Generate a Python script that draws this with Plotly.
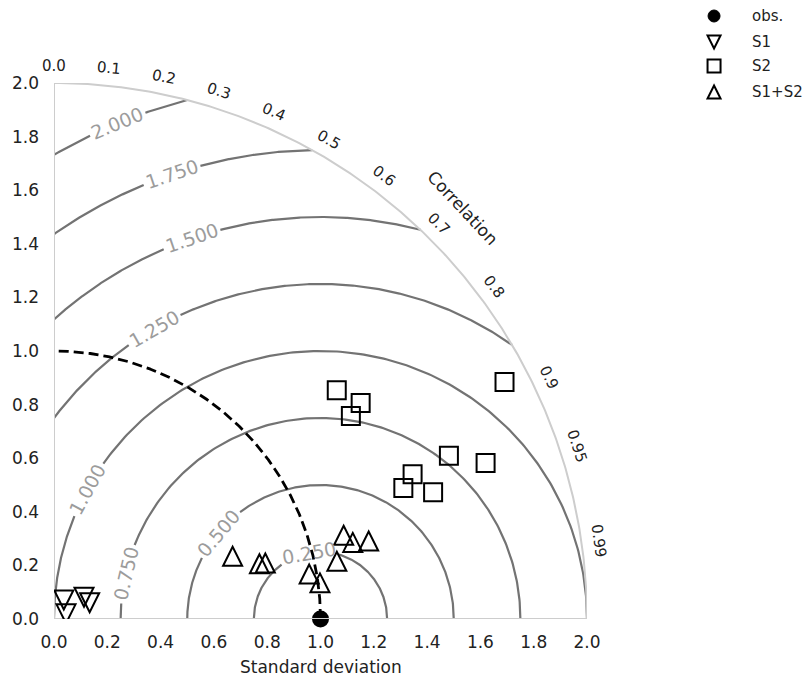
import numpy as np
import plotly.graph_objects as go

# ---- data: standard deviation and correlation of each simulation ----
obs_sd = 1.0
obs_corr = 1.0

s1_sd = [0.080, 0.139, 0.147, 0.049]
s1_corr = [0.46, 0.81, 0.91, 0.92]

s2_sd = [1.362, 1.405, 1.347, 1.908, 1.602, 1.450, 1.399, 1.499, 1.721]
s2_corr = [0.779, 0.819, 0.827, 0.886, 0.925, 0.928, 0.937, 0.949, 0.941]

s12_sd = [0.710, 0.798, 0.820, 0.972, 1.007, 1.083, 1.131, 1.157, 1.216]
s12_corr = [0.944, 0.966, 0.967, 0.985, 0.991, 0.980, 0.961, 0.969, 0.971]

# axis ticks and reference grids
sd_ticks = [0.0, 0.2, 0.4, 0.6, 0.8, 1.0, 1.2, 1.4, 1.6, 1.8, 2.0]
corr_ticks = [0.0, 0.1, 0.2, 0.3, 0.4, 0.5, 0.6, 0.7, 0.8, 0.9, 0.95, 0.99]
rmsd_levels = [0.25, 0.5, 0.75, 1.0, 1.25, 1.5, 1.75, 2.0]
# angle (deg, around the obs point) where each RMSD label sits
rmsd_label_angle = [100, 140, 167, 151, 120, 108.8, 108.6, 112.4]

SD_MAX = 2.0

# ---- layout geometry ----
W, H = 806, 680
ML, MR, MT, MB = 50, 219, 83, 61
PX = (W - ML - MR) / SD_MAX  # pixels per data unit
FONT = "DejaVu Sans"


def polar_xy(sd, corr):
    sd = np.asarray(sd, float)
    th = np.arccos(np.asarray(corr, float))
    return sd * np.cos(th), sd * np.sin(th)


def to_paper(x, y):
    return float(x) / SD_MAX, float(y) / SD_MAX


fig = go.Figure()
shapes = []
annotations = []

LINE_GREY = "#737373"
LABEL_GREY = "#9c9c9c"
FRAME_GREY = "#cdcdcd"


def label(x, y, text, size, color, angle=0, **kw):
    d = dict(x=x, y=y, xref="paper", yref="paper", text=text,
             showarrow=False, textangle=angle, xanchor="center",
             yanchor="middle", font=dict(size=size, color=color, family=FONT))
    d.update(kw)
    return d


# ---- centred RMS difference contours with inline labels ----
lab_font = 19
for R, ang in zip(rmsd_levels, rmsd_label_angle):
    if R <= 1.0:
        lo = 0.0
    else:
        lo = np.arccos((SD_MAX**2 - 1 - R**2) / (2 * R))
    hi = np.pi if R <= 1.0 else np.arccos(-1.0 / R)
    text = f"{R:.3f}"
    half_w = (len(text) - 1) * 0.636 * lab_font / 2 + 0.159 * lab_font + 3
    gap = half_w / (R * PX)
    a = np.deg2rad(ang)
    for seg_lo, seg_hi in [(lo, a - gap), (a + gap, hi)]:
        if seg_hi <= seg_lo:
            continue
        t = np.linspace(seg_lo, seg_hi, 200)
        fig.add_trace(go.Scatter(
            x=1 + R * np.cos(t), y=R * np.sin(t), mode="lines",
            line=dict(color=LINE_GREY, width=2.2), hoverinfo="skip",
            showlegend=False))
    px_, py_ = to_paper(1 + R * np.cos(a), R * np.sin(a))
    annotations.append(label(px_, py_, text, lab_font, LABEL_GREY, 90 - ang))

# ---- outer standard deviation arc and frame ----
t = np.linspace(0, np.pi / 2, 300)
fig.add_trace(go.Scatter(x=SD_MAX * np.cos(t), y=SD_MAX * np.sin(t),
                         mode="lines", line=dict(color=FRAME_GREY, width=2),
                         hoverinfo="skip", showlegend=False))
fig.add_trace(go.Scatter(x=[0, 0], y=[0, SD_MAX], mode="lines",
                         line=dict(color=FRAME_GREY, width=2),
                         hoverinfo="skip", showlegend=False))

# ---- reference standard deviation arc ----
fig.add_trace(go.Scatter(x=obs_sd * np.cos(t), y=obs_sd * np.sin(t),
                         mode="lines",
                         line=dict(color="black", width=2.8, dash="10px,5px"),
                         hoverinfo="skip", showlegend=False))

# ---- observation and simulations ----
ox, oy = polar_xy([obs_sd], [obs_corr])
fig.add_trace(go.Scatter(x=ox, y=oy, mode="markers", name="obs.",
                         marker=dict(symbol="circle", size=17, color="black"),
                         cliponaxis=False, showlegend=False))

x2, y2 = polar_xy(s2_sd, s2_corr)
fig.add_trace(go.Scatter(x=x2, y=y2, mode="markers", name="S2",
                         marker=dict(symbol="square-open", size=18,
                                     color="black",
                                     line=dict(width=2, color="black")),
                         cliponaxis=False, showlegend=False))

# bottom axis line over the markers
fig.add_trace(go.Scatter(x=[0, SD_MAX], y=[0, 0], mode="lines",
                         line=dict(color=FRAME_GREY, width=2),
                         cliponaxis=False, hoverinfo="skip",
                         showlegend=False))

TRI = 9.5
TRI_UP = f"M{-TRI},{-TRI} L{TRI},{-TRI} L0,{TRI} Z"
TRI_DOWN = f"M{-TRI},{TRI} L{TRI},{TRI} L0,{-TRI} Z"


def tri_shape(x, y, path):
    return dict(type="path", xref="x", yref="y", xsizemode="pixel",
                ysizemode="pixel", xanchor=x, yanchor=y, path=path,
                line=dict(color="black", width=2),
                fillcolor="rgba(0,0,0,0)", layer="above")


x1, y1 = polar_xy(s1_sd, s1_corr)
for xx, yy in zip(x1, y1):
    shapes.append(tri_shape(float(xx), float(yy), TRI_DOWN))
x12, y12 = polar_xy(s12_sd, s12_corr)
for xx, yy in zip(x12, y12):
    shapes.append(tri_shape(float(xx), float(yy), TRI_UP))

# ---- correlation labels along the outer arc ----
for c in corr_ticks:
    th = np.arccos(c)
    r = 2.065
    px_, py_ = to_paper(r * np.cos(th), r * np.sin(th))
    annotations.append(label(px_, py_, "0.0" if c == 0 else f"{c:g}", 15,
                             "#222222", 90 - np.rad2deg(th)))
px_, py_ = to_paper(2.17 * np.cos(np.pi / 4), 2.17 * np.sin(np.pi / 4))
annotations.append(label(px_, py_, "Correlation", 17, "#222222", 47))

plot_h = H - MT - MB
plot_w = W - ML - MR
annotations.append(label(0.5, -48 / plot_h, "Standard deviation", 17,
                         "#222222"))

# ---- legend ----
leg_names = ["obs.", "S1", "S2", "S1+S2"]
leg_y_px = [16, 42, 66, 92]
leg_x = (715 - ML) / plot_w
txt_x = (751 - ML) / plot_w
for name, ypx in zip(leg_names, leg_y_px):
    yp = ((H - MB) - ypx) / plot_h
    annotations.append(label(txt_x, yp, name, 15, "#222222",
                             xanchor="left"))
    s = 6.5
    if name == "obs.":
        shapes.append(dict(type="circle", xref="paper", yref="paper",
                           xsizemode="pixel", ysizemode="pixel",
                           xanchor=leg_x, yanchor=yp, x0=-6, x1=6, y0=-6,
                           y1=6, fillcolor="black",
                           line=dict(color="black", width=1)))
    elif name == "S2":
        shapes.append(dict(type="rect", xref="paper", yref="paper",
                           xsizemode="pixel", ysizemode="pixel",
                           xanchor=leg_x, yanchor=yp, x0=-s, x1=s, y0=-s,
                           y1=s, line=dict(color="black", width=2)))
    else:
        p = (f"M{-s},{s} L{s},{s} L0,{-s} Z" if name == "S1"
             else f"M{-s},{-s} L{s},{-s} L0,{s} Z")
        shapes.append(dict(type="path", xref="paper", yref="paper",
                           xsizemode="pixel", ysizemode="pixel",
                           xanchor=leg_x, yanchor=yp, path=p,
                           line=dict(color="black", width=2)))

fig.update_layout(
    width=W, height=H,
    margin=dict(l=ML, r=MR, t=MT, b=MB),
    paper_bgcolor="white", plot_bgcolor="white",
    showlegend=False,
    shapes=shapes, annotations=annotations,
    xaxis=dict(range=[0, SD_MAX], tickvals=sd_ticks,
               ticktext=[f"{v:.1f}" for v in sd_ticks],
               showgrid=False, zeroline=False, showline=False, ticks="",
               ticklabelstandoff=11,
               tickfont=dict(size=17, color="#222222", family=FONT)),
    yaxis=dict(range=[0, SD_MAX], tickvals=sd_ticks,
               ticktext=[f"{v:.1f}" for v in sd_ticks],
               showgrid=False, zeroline=False, showline=False, ticks="",
               ticklabelstandoff=14,
               tickfont=dict(size=17, color="#222222", family=FONT)),
)

fig.write_html("out.html")
